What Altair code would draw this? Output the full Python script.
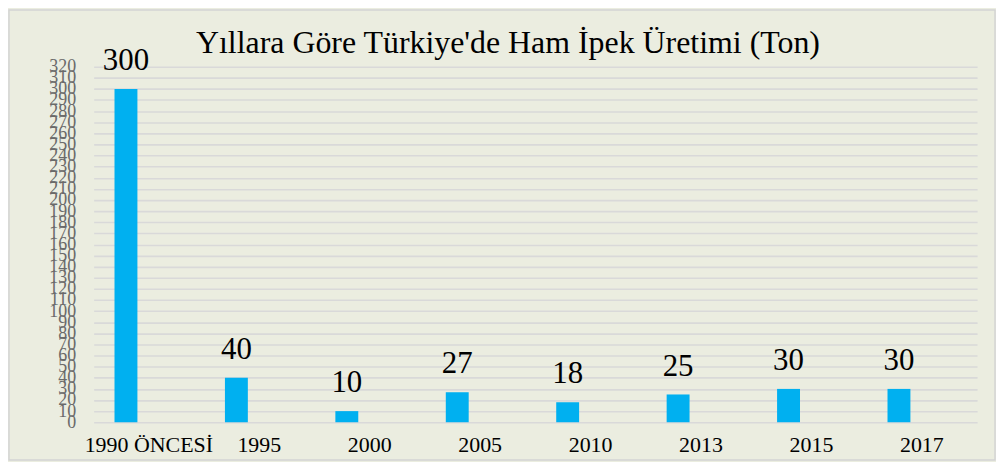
import altair as alt
import pandas as pd

years = ["1990 ÖNCESİ", "1995", "2000", "2005", "2010", "2013", "2015", "2017"]
values = [300, 40, 10, 27, 18, 25, 30, 30]
y_ticks = list(range(0, 330, 10))
title_text = "Yıllara Göre Türkiye'de Ham İpek Üretimi (Ton)"

df = pd.DataFrame({"year": years, "value": values})

W, H = 887, 357
PAD = {"left": 86, "top": 58, "right": 19, "bottom": 39}
SERIF = "Liberation Serif, Times New Roman, serif"

x_enc = alt.X(
    "year:N",
    sort=years,
    scale=alt.Scale(domain=years, paddingInner=0, paddingOuter=0),
    axis=alt.Axis(
        title=None, labelAngle=0, domain=False, ticks=False, tickSize=0,
        labelFont=SERIF, labelFontSize=22, labelColor="black",
        labelBaseline="alphabetic", labelPadding=29, grid=False,
    ),
)
y_enc = alt.Y(
    "value:Q",
    scale=alt.Scale(domain=[0, 320], nice=False, zero=True),
    axis=alt.Axis(
        title=None, values=y_ticks, labelOverlap=False, domain=False,
        ticks=False, tickSize=0, grid=True, gridColor="#D9D9D9", gridWidth=1.6,
        labelFont=SERIF, labelFontSize=18, labelColor="#6A6A6A",
        labelPadding=18,
    ),
)

base = alt.Chart(df)

bars = base.mark_bar(width=23, xOffset=-23, color="#00B0F0").encode(x=x_enc, y=y_enc)

labels = base.mark_text(
    xOffset=-23, dy=-19, baseline="alphabetic", align="center",
    font=SERIF, fontSize=31, color="black",
).encode(x=x_enc, y=y_enc, text=alt.Text("value:Q"))

one = alt.Data(values=[{"t": title_text}])

border = alt.Chart(one).mark_rect(
    fill=None, stroke="#D4D4D4", strokeWidth=1.5
).encode(
    x=alt.value(-PAD["left"] + 1),
    x2=alt.value(W + PAD["right"] - 1),
    y=alt.value(-PAD["top"] + 1),
    y2=alt.value(H + PAD["bottom"] - 1),
)

title = alt.Chart(one).mark_text(
    font=SERIF, fontSize=32, color="black", align="center", baseline="alphabetic"
).encode(x=alt.value(416), y=alt.value(-14), text="t:N")

chart = alt.layer(border, bars, labels, title).properties(
    width=W,
    height=H,
    background="#EBEDE0",
    padding=PAD,
    autosize="none",
).configure_view(stroke=None)

chart.save("out.html", embed_options={"renderer": "svg", "actions": False})
